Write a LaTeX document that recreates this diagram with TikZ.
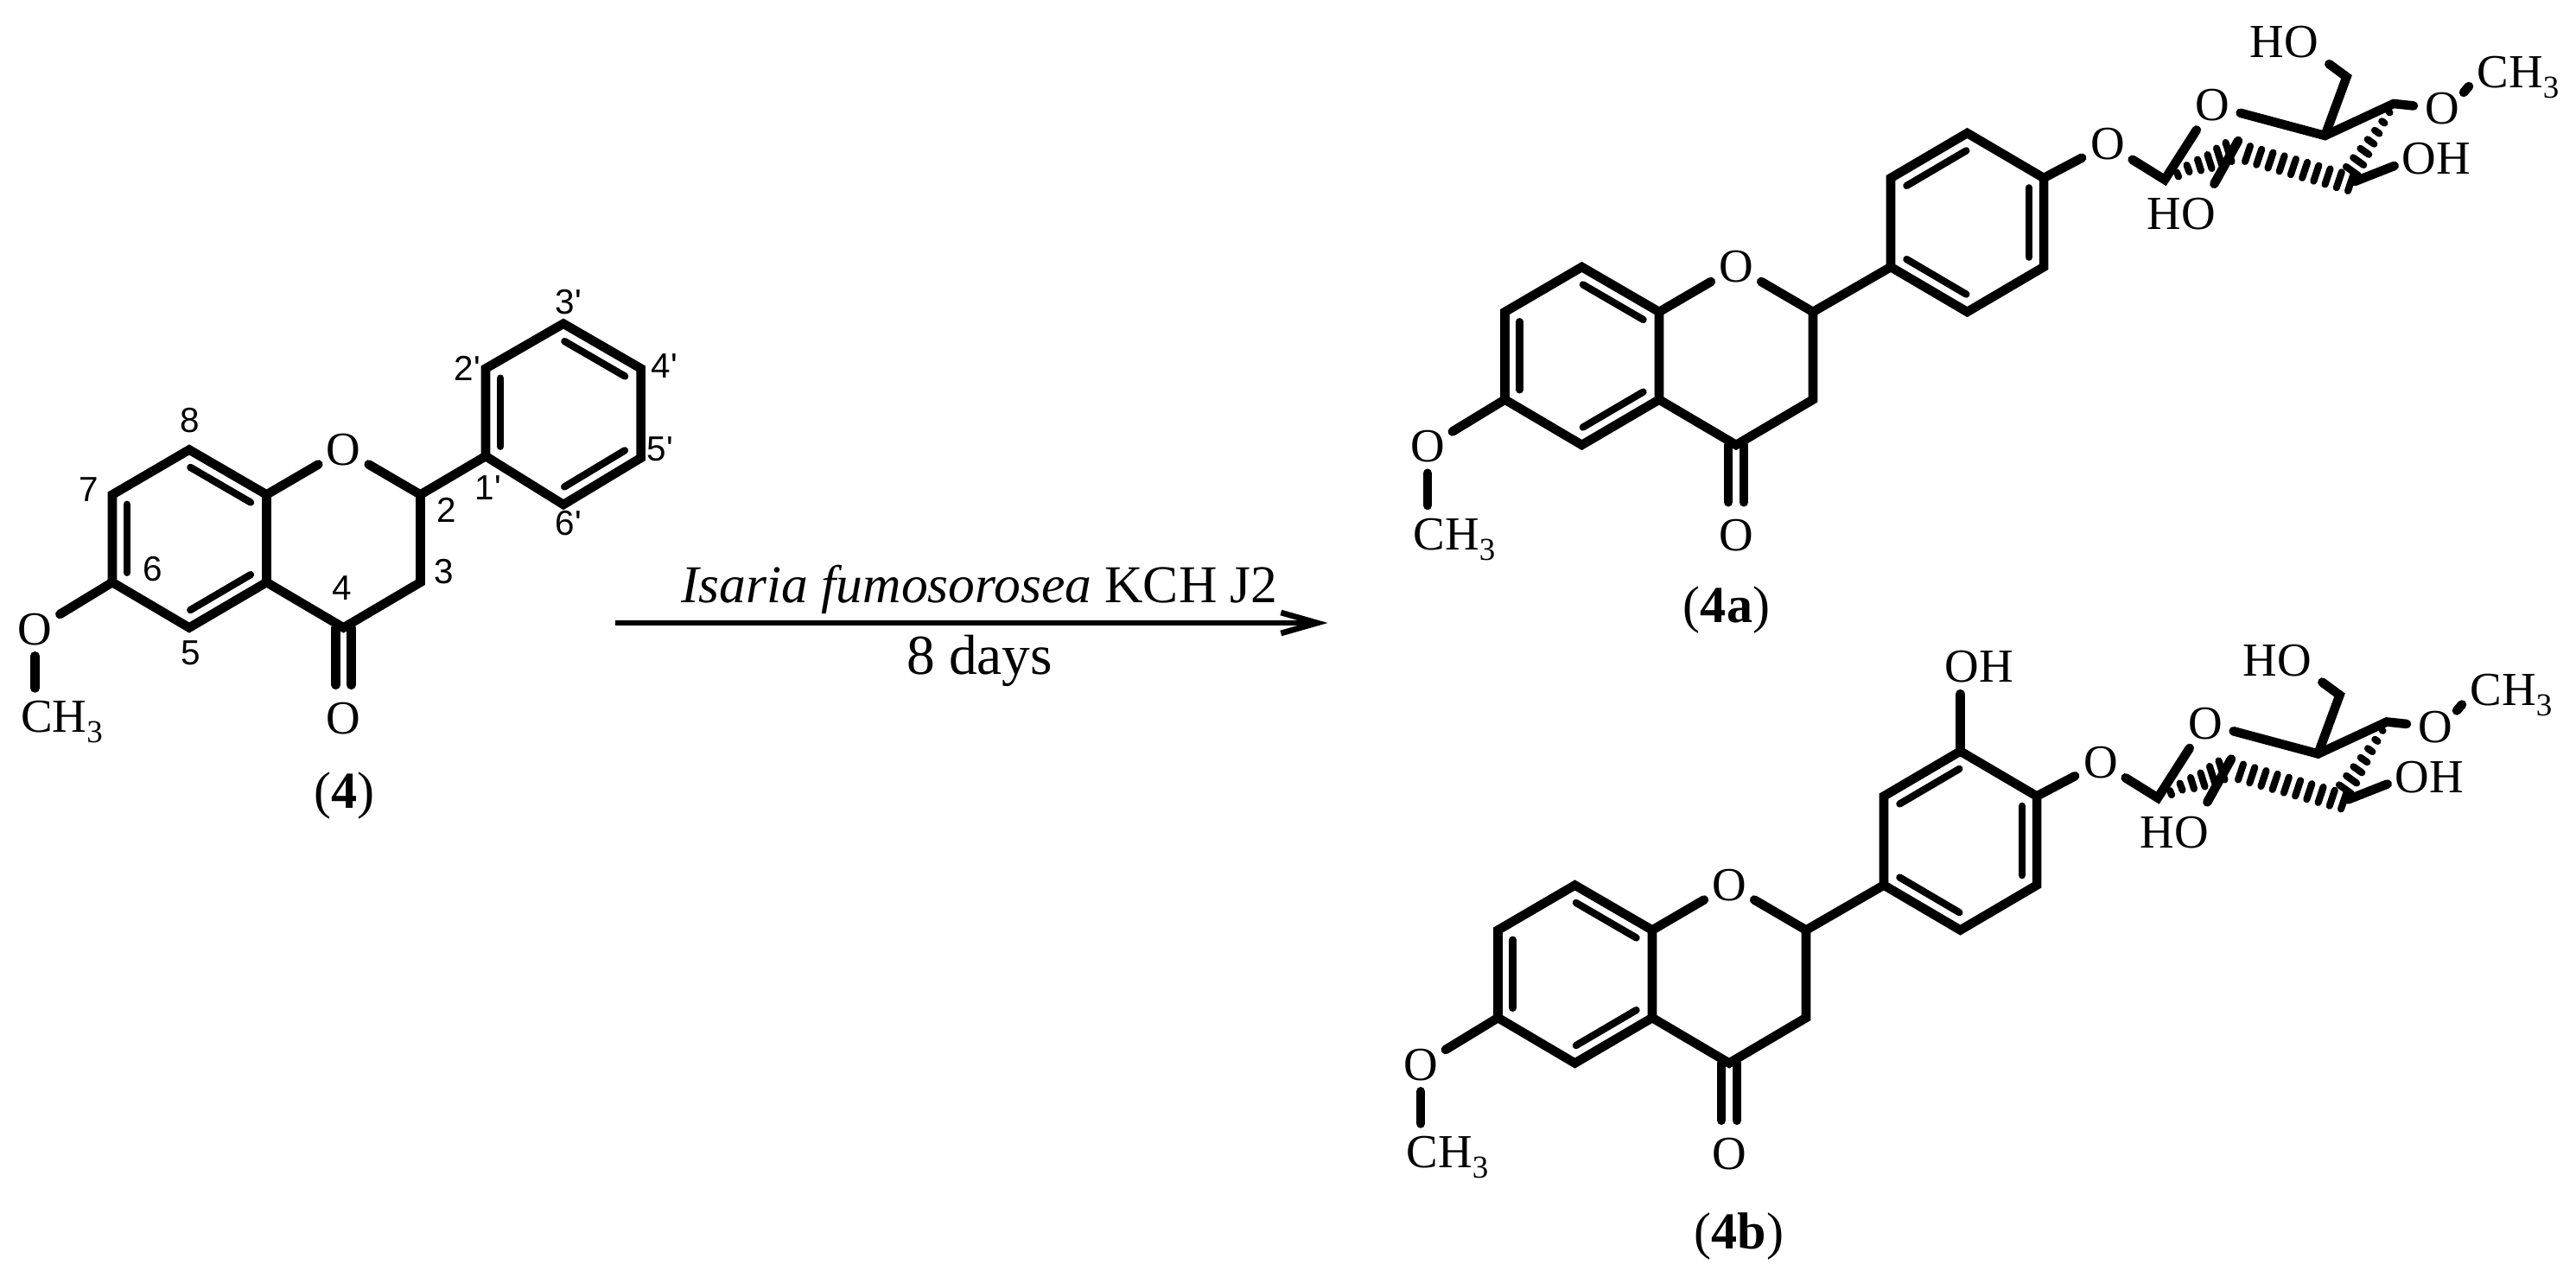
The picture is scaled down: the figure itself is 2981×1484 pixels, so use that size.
\documentclass[tikz,border=0pt]{standalone}
\usepackage{fontspec}
\setmainfont{Liberation Serif}
\newfontfamily\numfont{Liberation Sans}
\usetikzlibrary{calc,arrows.meta}
\tikzset{
  bond/.style={line width=3pt,line cap=round,line join=miter,miter limit=4},
  ibond/.style={line width=2.35pt,line cap=round},
  hashb/.style={line width=2.3pt,line cap=round},
  atom/.style={circle,inner sep=0pt,minimum size=.66cm,font=\fontsize{15.6}{16}\selectfont},
  lab/.style={inner sep=0pt,font=\fontsize{15.6}{16}\selectfont},
  num/.style={inner sep=0pt,font=\numfont\fontsize{11.5}{12}\selectfont},
  cmpd/.style={inner sep=0pt,font=\fontsize{17.1}{18}\selectfont},
  cond/.style={inner sep=0pt,anchor=base,font=\fontsize{17.5}{18}\selectfont},
  condb/.style={inner sep=0pt,anchor=base,font=\fontsize{18.6}{19}\selectfont},
  rxn/.style={line width=1.5pt,-{Straight Barb[length=4.2mm,width=2.4mm,line width=1.9pt]}}
}
\newcommand{\mthree}{CH{\fontsize{10.5}{11}\selectfont\raisebox{-.12cm}{3}}}
\newcommand{\inbond}[2]{\draw[ibond] ($(#1)!.11!(#2)!.17cm!90:(#2)$) -- ($(#1)!.89!(#2)!.17cm!90:(#2)$);}
% chromanone core (coordinates of compound 4a; shifted by a scope)
\newcommand{\chromanone}{%
  \coordinate (c8) at (1830.5,309);
  \coordinate (c7) at (1741.5,361);
  \coordinate (c6) at (1741.5,462.5);
  \coordinate (c5) at (1830.5,515);
  \coordinate (c4a) at (1920,462.5);
  \coordinate (c8a) at (1920,361);
  \coordinate (c2) at (2098,361);
  \coordinate (c3) at (2098,462.5);
  \coordinate (c4) at (2009,515);
  \node[atom] (o1) at (2009,309) {O};
  \node[atom] (oc) at (2009,620) {O};
  \node[atom] (ome) at (1652,517) {O};
  \node[lab,anchor=base west] (me) at (1635,636) {\mthree};
  \draw[bond] (c8a) -- (c8) -- (c7) -- (c6) -- (c5) -- (c4a) -- cycle;
  \draw[bond] (c8a) -- (o1);
  \draw[bond] (o1) -- (c2) -- (c3) -- (c4) -- (c4a);
  \inbond{c7}{c6}
  \inbond{c5}{c4a}
  \inbond{c8a}{c8}
  \draw[bond,shorten >=.05cm] ([xshift=-.09cm]c4) -- ([xshift=-.09cm]oc.north);
  \draw[bond,shorten >=.05cm] ([xshift=.09cm]c4) -- ([xshift=.09cm]oc.north);
  \draw[bond] (c6) -- (ome);
  \draw[bond,shorten <=-.03cm,shorten >=.14cm] (ome) -- (ome |- me.north);
}
% substituted ring B with the sugar (coordinates of compound 4a)
\newcommand{\ringsugar}{%
  \coordinate (c1p) at (2188,309);
  \coordinate (c2p) at (2188,206);
  \coordinate (c3p) at (2276.5,154);
  \coordinate (c4p) at (2365,206);
  \coordinate (c5p) at (2365,309);
  \coordinate (c6p) at (2276.5,361);
  \draw[bond] (c2) -- (c1p);
  \draw[bond] (c1p) -- (c2p) -- (c3p) -- (c4p) -- (c5p) -- (c6p) -- cycle;
  \inbond{c1p}{c6p}
  \inbond{c5p}{c4p}
  \inbond{c3p}{c2p}
  \node[atom] (ol) at (2439,167) {O};
  \node[atom] (ro) at (2560,122) {O};
  \node[atom] (o4s) at (2826.5,126) {O};
  \node[lab] (ho6) at (2643,49) {HO};
  \node[lab] (oh3s) at (2819,184) {OH};
  \node[lab] (ho2) at (2524,248) {HO};
  \node[lab,anchor=base west] (mes) at (2866,101) {\mthree};
  \coordinate (c1s) at (2505,208);
  \coordinate (c2s) at (2590,163);
  \coordinate (c3s) at (2725,210);
  \coordinate (c4s) at (2770,120);
  \coordinate (c5s) at (2690.5,157);
  \coordinate (c6s) at (2715.5,89);
  \coordinate (ma) at (2851,107);
  \coordinate (mb) at (2857,100);
  \draw[bond] (c4p) -- (ol);
  \draw[bond] (ol) -- (c1s) -- (ro);
  \draw[bond] (ro) -- (c5s) -- (c4s) -- (o4s);
  \draw[bond] (c5s) -- (c6s) -- ([shift={(12,6)}]ho6.south east);
  \draw[bond] (c3s) -- ([shift={(-8,8)}]oh3s.west);
  \draw[bond] (c2s) -- ([shift={(-2,-16)}]ho2.north east);
  \draw[bond] (ma) -- (mb);
  \coordinate (ha) at (2601,178);
  \coordinate (hb) at (2720,212);
  \foreach \t in {0,...,9}
    \draw[hashb] ($(ha)!\t/9!(hb)+(-3,9)$) -- ($(ha)!\t/9!(hb)+(3,-9)$);
  \coordinate (hc) at (2765,130);
  \coordinate (hd) at (2722,198);
  \foreach \t in {0,...,6}
    \draw[hashb] ($(hc)!\t/6!(hd)+({-.5-\t*1.1},{-.3-\t*.8})$) -- ($(hc)!\t/6!(hd)+({.5+\t*1.1},{.3+\t*.8})$);
  \foreach \x/\y/\a/\b in {2520/202/1/2.5,2532/195/1.5/4,2545/191/2/6.5,2557/187/2.5/8,2568/181/3/9.5,2579/176/3.5/11}
    \draw[hashb] (\x-\a,\y-\b) -- (\x+\a,\y+\b);
}
\begin{document}
\begin{tikzpicture}[x=.01cm,y=-.01cm]
\useasboundingbox (0,0) rectangle (2981,1484);
% compound 4
\begin{scope}[shift={(-1611.5,211.5)},name prefix=p-]
  \chromanone
\end{scope}
\coordinate (r1) at (562,528);
\coordinate (r2) at (562,426.5);
\coordinate (r3) at (652,374.6);
\coordinate (r4) at (741.6,426.5);
\coordinate (r5) at (741.6,530);
\coordinate (r6) at (652,584);
\draw[bond] (p-c2) -- (r1);
\draw[bond] (r1) -- (r2) -- (r3) -- (r4) -- (r5) -- (r6) -- cycle;
\inbond{r2}{r1}
\inbond{r4}{r3}
\inbond{r6}{r5}
\node[num] (n8) at (220,487) {8};
\node[num] (n7) at (103,567) {7};
\node[num] (n6) at (177,659) {6};
\node[num] (n5) at (221,756) {5};
\node[num] (n4) at (396,681) {4};
\node[num] (n3) at (514,662) {3};
\node[num] (n2) at (517,590) {2};
\node[num] (n1p) at (565,565) {1'};
\node[num] (n2p) at (541,426) {2'};
\node[num] (n3p) at (658,350) {3'};
\node[num] (n4p) at (769,424) {4'};
\node[num] (n5p) at (764,520) {5'};
\node[num] (n6p) at (658,606) {6'};
\node[cmpd] (l4) at (398.5,921) {(\textbf{4})};
% reaction arrow
\coordinate (a1) at (711.6,721);
\coordinate (a2) at (1536.5,721);
\draw[rxn] (a1) -- (a2);
\node[cond] (t1) at (1133.5,697) {\textit{Isaria fumosorosea} KCH J2};
\node[condb] (t2) at (1133.5,780) {8 days};
% compound 4a
\begin{scope}
  \chromanone
  \ringsugar
\end{scope}
\node[cmpd] (l4a) at (1998,706) {(\textbf{4a})};
% compound 4b
\begin{scope}[shift={(-8,715.5)},name prefix=b-]
  \chromanone
  \ringsugar
  \node[lab] (oh3) at (2298,56.5) {OH};
  \draw[bond,shorten >=.12cm] (c3p) -- (c3p |- oh3.south);
\end{scope}
\node[cmpd] (l4b) at (2012.5,1431) {(\textbf{4b})};
\end{tikzpicture}
\end{document}
